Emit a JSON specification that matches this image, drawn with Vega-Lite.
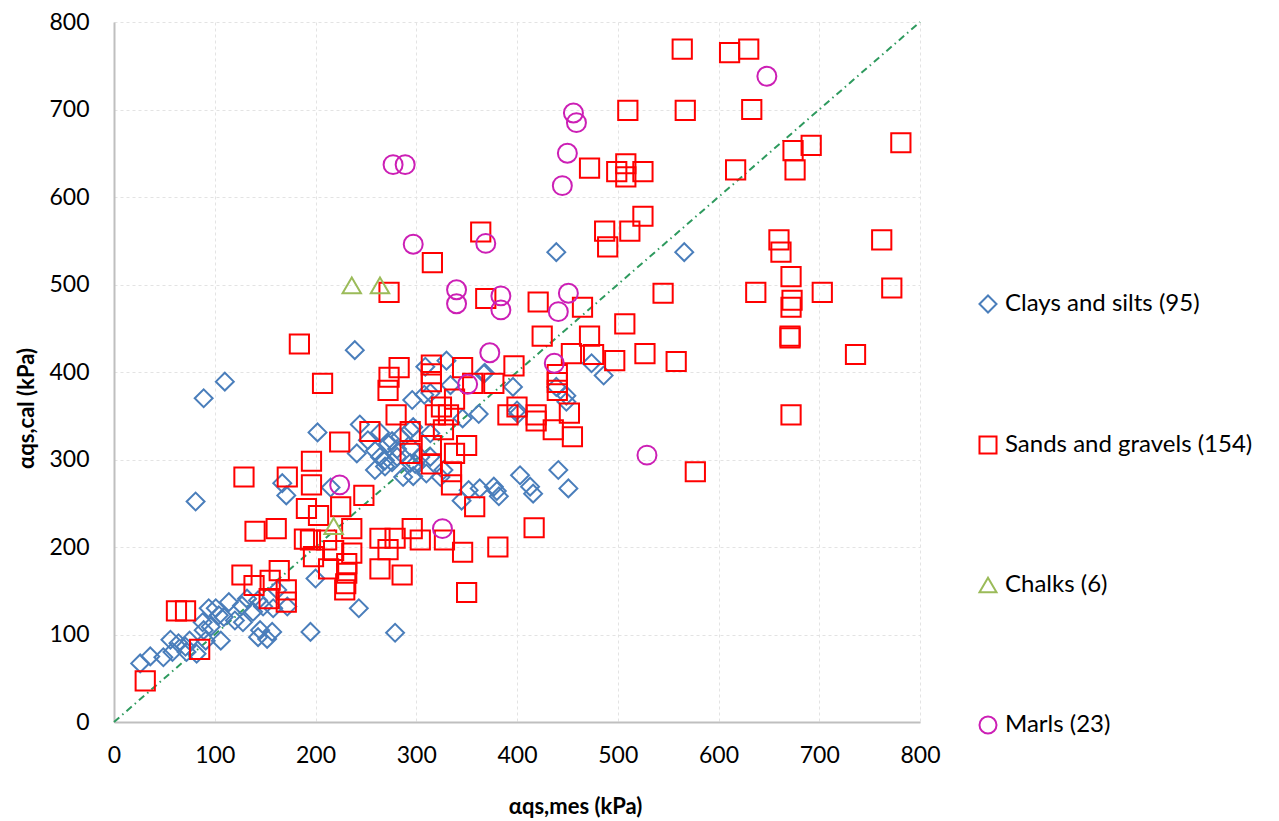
{
  "$schema": "https://vega.github.io/schema/vega-lite/v6.json",
  "width": 806,
  "height": 700,
  "autosize": {"type": "none"},
  "padding": {"left": 114, "top": 22, "right": 359, "bottom": 99},
  "background": "white",
  "config": {"view": {"stroke": null}, "font": "Lato",
    "legend": {"orient": "none", "legendX": 862, "legendY": 270, "title": null, "labelFont": "Lato", "labelFontSize": 24, "labelColor": "#000", "labelLimit": 0, "rowPadding": 115, "symbolSize": 290, "symbolStrokeWidth": 2, "labelOffset": 5, "padding": 0, "symbolFillColor": "transparent"}},
  "datasets": {
    "pts": [
        {"t":"C","x":439,"y":537},{"t":"C","x":566,"y":537},{"t":"C","x":474,"y":410},{"t":"C","x":486,"y":396},{"t":"C","x":439,"y":383},{"t":"C","x":449,"y":373},{"t":"C","x":449,"y":366},{"t":"C","x":441,"y":288},{"t":"C","x":451,"y":267},{"t":"C","x":239,"y":425},{"t":"C","x":330,"y":413},{"t":"C","x":309,"y":406},{"t":"C","x":367,"y":398},{"t":"C","x":396,"y":383},{"t":"C","x":296,"y":368},{"t":"C","x":314,"y":376},{"t":"C","x":334,"y":385},{"t":"C","x":362,"y":352},{"t":"C","x":401,"y":352},{"t":"C","x":346,"y":347},{"t":"C","x":202,"y":331},{"t":"C","x":244,"y":340},{"t":"C","x":252,"y":322},{"t":"C","x":264,"y":331},{"t":"C","x":241,"y":307},{"t":"C","x":259,"y":310},{"t":"C","x":272,"y":318},{"t":"C","x":284,"y":326},{"t":"C","x":294,"y":334},{"t":"C","x":269,"y":299},{"t":"C","x":259,"y":288},{"t":"C","x":269,"y":292},{"t":"C","x":281,"y":303},{"t":"C","x":287,"y":280},{"t":"C","x":299,"y":295},{"t":"C","x":314,"y":303},{"t":"C","x":324,"y":280},{"t":"C","x":345,"y":253},{"t":"C","x":352,"y":265},{"t":"C","x":363,"y":267},{"t":"C","x":377,"y":269},{"t":"C","x":380,"y":264},{"t":"C","x":382,"y":258},{"t":"C","x":403,"y":282},{"t":"C","x":413,"y":269},{"t":"C","x":416,"y":261},{"t":"C","x":200,"y":164},{"t":"C","x":243,"y":130},{"t":"C","x":215,"y":268},{"t":"C","x":110,"y":389},{"t":"C","x":89,"y":370},{"t":"C","x":81,"y":252},{"t":"C","x":167,"y":273},{"t":"C","x":171,"y":259},{"t":"C","x":276,"y":321},{"t":"C","x":281,"y":312},{"t":"C","x":264,"y":303},{"t":"C","x":276,"y":297},{"t":"C","x":294,"y":296},{"t":"C","x":304,"y":303},{"t":"C","x":310,"y":284},{"t":"C","x":297,"y":337},{"t":"C","x":295,"y":314},{"t":"C","x":314,"y":330},{"t":"C","x":327,"y":288},{"t":"C","x":297,"y":281},{"t":"C","x":368,"y":399},{"t":"C","x":400,"y":356},{"t":"C","x":26,"y":67},{"t":"C","x":36,"y":75},{"t":"C","x":49,"y":74},{"t":"C","x":56,"y":94},{"t":"C","x":64,"y":90},{"t":"C","x":58,"y":80},{"t":"C","x":71,"y":86},{"t":"C","x":72,"y":80},{"t":"C","x":82,"y":78},{"t":"C","x":75,"y":93},{"t":"C","x":91,"y":93},{"t":"C","x":89,"y":105},{"t":"C","x":88,"y":114},{"t":"C","x":96,"y":109},{"t":"C","x":94,"y":130},{"t":"C","x":101,"y":130},{"t":"C","x":104,"y":122},{"t":"C","x":109,"y":120},{"t":"C","x":114,"y":137},{"t":"C","x":120,"y":116},{"t":"C","x":127,"y":133},{"t":"C","x":132,"y":141},{"t":"C","x":128,"y":114},{"t":"C","x":138,"y":126},{"t":"C","x":145,"y":105},{"t":"C","x":143,"y":97},{"t":"C","x":157,"y":103},{"t":"C","x":152,"y":95},{"t":"C","x":143,"y":139},{"t":"C","x":148,"y":132},{"t":"C","x":158,"y":130},{"t":"C","x":172,"y":132},{"t":"C","x":162,"y":151},{"t":"C","x":195,"y":103},{"t":"C","x":279,"y":102},{"t":"C","x":106,"y":93},{"t":"C","x":308,"y":374},
        {"t":"S","x":564,"y":769},{"t":"S","x":611,"y":765},{"t":"S","x":630,"y":769},{"t":"S","x":510,"y":699},{"t":"S","x":567,"y":699},{"t":"S","x":633,"y":700},{"t":"S","x":692,"y":659},{"t":"S","x":674,"y":653},{"t":"S","x":781,"y":662},{"t":"S","x":676,"y":631},{"t":"S","x":617,"y":631},{"t":"S","x":472,"y":633},{"t":"S","x":499,"y":629},{"t":"S","x":508,"y":638},{"t":"S","x":508,"y":623},{"t":"S","x":525,"y":629},{"t":"S","x":525,"y":578},{"t":"S","x":487,"y":561},{"t":"S","x":512,"y":561},{"t":"S","x":490,"y":543},{"t":"S","x":660,"y":551},{"t":"S","x":662,"y":537},{"t":"S","x":762,"y":551},{"t":"S","x":672,"y":509},{"t":"S","x":673,"y":482},{"t":"S","x":672,"y":474},{"t":"S","x":703,"y":491},{"t":"S","x":637,"y":491},{"t":"S","x":772,"y":496},{"t":"S","x":545,"y":490},{"t":"S","x":671,"y":439},{"t":"S","x":671,"y":441},{"t":"S","x":736,"y":420},{"t":"S","x":465,"y":474},{"t":"S","x":421,"y":480},{"t":"S","x":472,"y":441},{"t":"S","x":507,"y":455},{"t":"S","x":425,"y":441},{"t":"S","x":454,"y":421},{"t":"S","x":476,"y":420},{"t":"S","x":497,"y":413},{"t":"S","x":527,"y":421},{"t":"S","x":558,"y":412},{"t":"S","x":440,"y":397},{"t":"S","x":440,"y":388},{"t":"S","x":452,"y":353},{"t":"S","x":436,"y":334},{"t":"S","x":455,"y":326},{"t":"S","x":672,"y":351},{"t":"S","x":577,"y":286},{"t":"S","x":364,"y":560},{"t":"S","x":316,"y":525},{"t":"S","x":273,"y":491},{"t":"S","x":369,"y":484},{"t":"S","x":184,"y":432},{"t":"S","x":283,"y":405},{"t":"S","x":315,"y":408},{"t":"S","x":346,"y":405},{"t":"S","x":397,"y":407},{"t":"S","x":273,"y":394},{"t":"S","x":272,"y":379},{"t":"S","x":315,"y":398},{"t":"S","x":315,"y":389},{"t":"S","x":356,"y":387},{"t":"S","x":377,"y":387},{"t":"S","x":207,"y":387},{"t":"S","x":440,"y":379},{"t":"S","x":338,"y":369},{"t":"S","x":325,"y":360},{"t":"S","x":319,"y":351},{"t":"S","x":332,"y":351},{"t":"S","x":280,"y":351},{"t":"S","x":391,"y":351},{"t":"S","x":400,"y":360},{"t":"S","x":419,"y":351},{"t":"S","x":419,"y":344},{"t":"S","x":254,"y":332},{"t":"S","x":294,"y":332},{"t":"S","x":224,"y":320},{"t":"S","x":327,"y":334},{"t":"S","x":350,"y":316},{"t":"S","x":294,"y":307},{"t":"S","x":315,"y":316},{"t":"S","x":338,"y":307},{"t":"S","x":315,"y":295},{"t":"S","x":196,"y":298},{"t":"S","x":335,"y":286},{"t":"S","x":335,"y":271},{"t":"S","x":196,"y":271},{"t":"S","x":248,"y":259},{"t":"S","x":358,"y":246},{"t":"S","x":417,"y":222},{"t":"S","x":191,"y":244},{"t":"S","x":203,"y":236},{"t":"S","x":225,"y":246},{"t":"S","x":236,"y":221},{"t":"S","x":195,"y":208},{"t":"S","x":211,"y":208},{"t":"S","x":264,"y":210},{"t":"S","x":279,"y":210},{"t":"S","x":296,"y":221},{"t":"S","x":304,"y":208},{"t":"S","x":328,"y":208},{"t":"S","x":346,"y":194},{"t":"S","x":381,"y":200},{"t":"S","x":236,"y":193},{"t":"S","x":198,"y":189},{"t":"S","x":218,"y":196},{"t":"S","x":231,"y":181},{"t":"S","x":231,"y":170},{"t":"S","x":230,"y":158},{"t":"S","x":229,"y":151},{"t":"S","x":213,"y":175},{"t":"S","x":264,"y":175},{"t":"S","x":286,"y":168},{"t":"S","x":350,"y":148},{"t":"S","x":172,"y":280},{"t":"S","x":129,"y":280},{"t":"S","x":140,"y":218},{"t":"S","x":161,"y":221},{"t":"S","x":189,"y":209},{"t":"S","x":127,"y":168},{"t":"S","x":139,"y":156},{"t":"S","x":164,"y":173},{"t":"S","x":155,"y":162},{"t":"S","x":171,"y":151},{"t":"S","x":154,"y":141},{"t":"S","x":171,"y":137},{"t":"S","x":62,"y":127},{"t":"S","x":71,"y":127},{"t":"S","x":85,"y":83},{"t":"S","x":31,"y":47},{"t":"S","x":272,"y":197},
        {"t":"K","x":236,"y":499},{"t":"K","x":264,"y":499},{"t":"K","x":218,"y":224},
        {"t":"M","x":648,"y":738},{"t":"M","x":456,"y":696},{"t":"M","x":459,"y":685},{"t":"M","x":450,"y":650},{"t":"M","x":445,"y":613},{"t":"M","x":451,"y":490},{"t":"M","x":441,"y":469},{"t":"M","x":437,"y":410},{"t":"M","x":529,"y":305},{"t":"M","x":297,"y":546},{"t":"M","x":369,"y":547},{"t":"M","x":340,"y":494},{"t":"M","x":340,"y":478},{"t":"M","x":384,"y":487},{"t":"M","x":384,"y":471},{"t":"M","x":373,"y":422},{"t":"M","x":351,"y":386},{"t":"M","x":224,"y":271},{"t":"M","x":326,"y":221},{"t":"M","x":277,"y":637},{"t":"M","x":289,"y":637}
    ]
  },
  "layer": [
    {
      "data": {"values": [{"x": 0, "y": 0}, {"x": 800, "y": 800}]},
      "mark": {"type": "line", "color": "#2e9a5e", "strokeDash": [7, 4, 1.5, 4], "strokeWidth": 2},
      "encoding": {
        "x": {"field": "x", "type": "quantitative", "scale": {"domain": [0, 800]},
          "axis": {"values": [0,100,200,300,400,500,600,700,800], "title": "αqs,mes (kPa)", "titleFont": "Lato", "titleFontSize": 22, "titleFontWeight": "bold", "titleX": 461, "titleY": 84, "titleBaseline": "middle", "titleColor": "#000", "labelFont": "Lato", "labelFontSize": 23, "labelColor": "#000", "labelPadding": 22, "ticks": false, "domainColor": "#bfbfbf", "domainWidth": 2, "gridColor": "#e3e3e3", "gridDash": [3, 3], "labelFlush": false}},
        "y": {"field": "y", "type": "quantitative", "scale": {"domain": [0, 800]},
          "axis": {"values": [0,100,200,300,400,500,600,700,800], "title": "αqs,cal (kPa)", "titleFont": "Lato", "titleFontSize": 22, "titleFontWeight": "bold", "titleX": -88, "titleY": 386, "titleAngle": -90, "titleBaseline": "middle", "titleColor": "#000", "labelFont": "Lato", "labelFontSize": 23, "labelColor": "#000", "labelPadding": 25, "ticks": false, "domainColor": "#bfbfbf", "domainWidth": 2, "gridColor": "#e3e3e3", "gridDash": [3, 3], "labelFlush": false}}
      }
    },
    {
      "data": {"name": "pts"},
      "transform": [{"filter": "datum.t == 'C'"}],
      "mark": {"type": "point", "filled": false, "strokeWidth": 2, "opacity": 1, "size": 320},
      "encoding": {
        "x": {"field": "x", "type": "quantitative"},
        "y": {"field": "y", "type": "quantitative"},
        "shape": {"field": "t", "type": "nominal", "scale": {"domain": ["C", "S", "K", "M"], "range": ["diamond", "square", "triangle-up", "circle"]},
          "legend": {"labelExpr": "datum.value == 'C' ? 'Clays and silts (95)' : datum.value == 'S' ? 'Sands and gravels (154)' : datum.value == 'K' ? 'Chalks (6)' : 'Marls (23)'"}},
        "color": {"field": "t", "type": "nominal", "scale": {"domain": ["C", "S", "K", "M"], "range": ["#4a7ebb", "#ff0000", "#9bbb59", "#cc1fb5"]},
          "legend": {"labelExpr": "datum.value == 'C' ? 'Clays and silts (95)' : datum.value == 'S' ? 'Sands and gravels (154)' : datum.value == 'K' ? 'Chalks (6)' : 'Marls (23)'"}}
      }
    },
    {
      "data": {"name": "pts"},
      "transform": [{"filter": "datum.t == 'S'"}],
      "mark": {"type": "point", "filled": false, "strokeWidth": 2, "opacity": 1, "size": 370},
      "encoding": {
        "x": {"field": "x", "type": "quantitative"},
        "y": {"field": "y", "type": "quantitative"},
        "shape": {"field": "t", "type": "nominal"},
        "color": {"field": "t", "type": "nominal"}
      }
    },
    {
      "data": {"name": "pts"},
      "transform": [{"filter": "datum.t == 'K'"}],
      "mark": {"type": "point", "filled": false, "strokeWidth": 2, "opacity": 1, "size": 340},
      "encoding": {
        "x": {"field": "x", "type": "quantitative"},
        "y": {"field": "y", "type": "quantitative"},
        "shape": {"field": "t", "type": "nominal"},
        "color": {"field": "t", "type": "nominal"}
      }
    },
    {
      "data": {"name": "pts"},
      "transform": [{"filter": "datum.t == 'M'"}],
      "mark": {"type": "point", "filled": false, "strokeWidth": 2, "opacity": 1, "size": 360},
      "encoding": {
        "x": {"field": "x", "type": "quantitative"},
        "y": {"field": "y", "type": "quantitative"},
        "shape": {"field": "t", "type": "nominal"},
        "color": {"field": "t", "type": "nominal"}
      }
    }
  ]
}
